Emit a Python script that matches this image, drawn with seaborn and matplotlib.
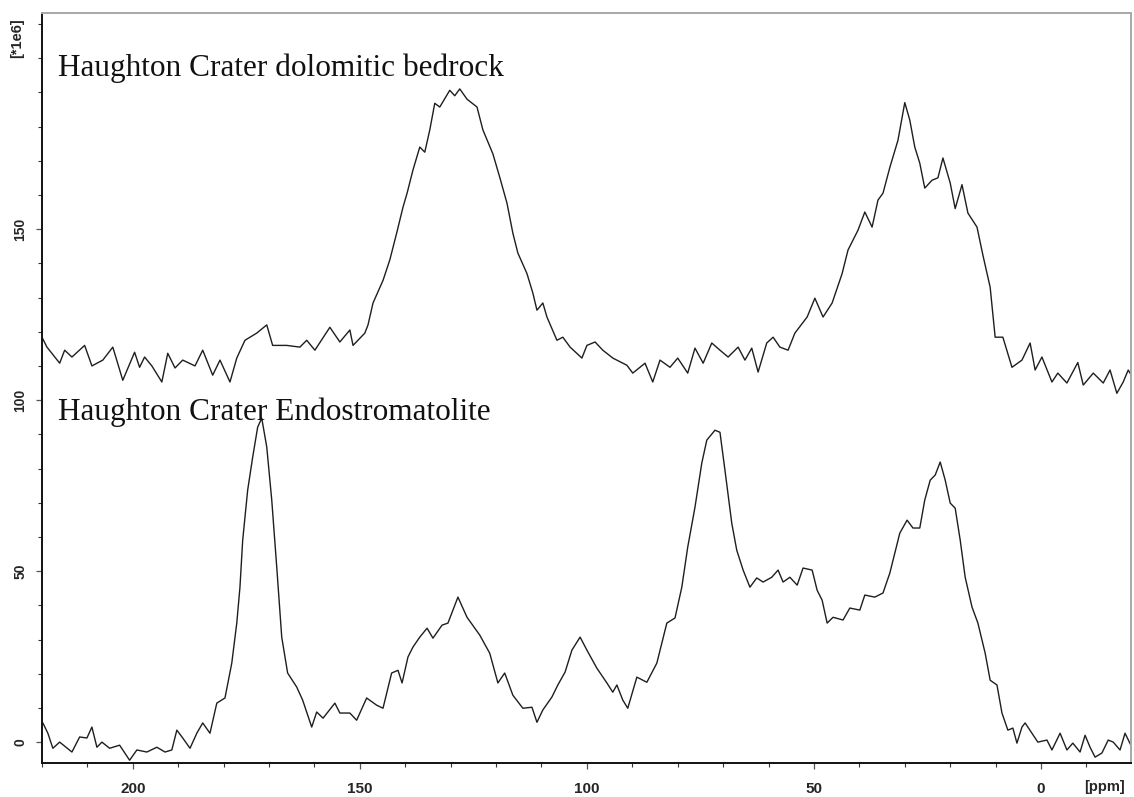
import matplotlib
matplotlib.use("Agg")
import matplotlib.pyplot as plt
import pandas as pd
import seaborn as sns
from matplotlib.ticker import FixedLocator, MultipleLocator

# 13C NMR spectra (intensity in units of 1e6), chemical shift in ppm
bedrock_ppm = [
    220.0, 218.9, 216.1, 215.0, 213.4, 210.6, 209.0, 206.6, 204.4, 202.2,
    199.6, 198.5, 197.4, 195.8, 193.6, 192.3, 190.7, 189.0, 186.3, 184.6,
    182.4, 180.8, 178.6, 177.1, 175.3, 172.7, 170.5, 169.2, 166.1, 163.2,
    161.7, 159.9, 156.6, 154.4, 152.2, 151.5, 148.9, 148.2, 147.1, 144.9,
    143.4, 141.9, 140.5, 139.6, 138.3, 136.8, 135.7, 134.6, 133.5, 132.4,
    130.2, 129.1, 128.0, 126.4, 124.2, 122.9, 120.7, 119.2, 117.6, 116.3,
    115.2, 113.2, 111.9, 111.0, 109.7, 108.8, 106.6, 105.3, 103.7, 101.1,
    100.0, 98.2, 96.5, 94.3, 91.2, 89.9, 87.2, 85.5, 83.9, 81.7,
    80.0, 77.8, 76.2, 74.4, 72.5, 70.7, 68.9, 66.7, 65.2, 63.7,
    62.3, 60.4, 59.0, 57.5, 55.7, 54.2, 51.5, 49.8, 48.0, 46.0,
    43.8, 42.5, 40.3, 38.8, 37.2, 35.9, 34.8, 33.3, 31.5, 30.0,
    28.9, 27.8, 26.7, 25.6, 24.0, 22.7, 21.6, 20.0, 18.9, 17.4,
    16.1, 14.1, 12.8, 11.2, 10.1, 8.4, 6.4, 4.2, 2.4, 1.3,
    -0.2, -2.4, -3.7, -5.7, -8.1, -9.3, -11.5, -13.7, -15.2, -16.7,
    -18.1, -19.2, -20.3,
]
bedrock_int = [
    118.4, 115.5, 110.8, 114.6, 112.6, 116.0, 110.0, 111.7, 115.5, 105.8,
    114.0, 109.6, 112.6, 110.0, 105.3, 113.7, 109.4, 111.7, 110.0, 114.6,
    107.3, 111.7, 105.3, 112.3, 117.5, 119.6, 122.0, 116.0, 116.0, 115.5,
    117.5, 114.6, 121.3, 117.0, 120.5, 116.0, 119.6, 122.0, 128.4, 135.0,
    141.0, 148.8, 156.4, 160.5, 167.3, 174.0, 172.5, 179.0, 186.8, 185.7,
    190.6, 189.0, 191.0, 188.0, 185.7, 179.0, 172.0, 165.2, 157.6, 148.8,
    143.0, 137.0, 131.3, 126.3, 128.4, 124.3, 117.5, 118.4, 115.5, 112.3,
    116.0, 117.0, 114.6, 112.3, 110.2, 107.9, 110.8, 105.3, 111.7, 109.6,
    112.3, 107.9, 115.2, 110.8, 116.7, 114.6, 112.6, 115.5, 111.7, 115.2,
    108.2, 116.7, 118.4, 115.5, 114.6, 119.6, 124.3, 129.8, 124.3, 128.4,
    137.0, 143.9, 149.7, 155.0, 150.6, 158.5, 160.5, 168.0, 176.0, 187.0,
    181.9, 174.0, 169.3, 162.0, 164.3, 165.0, 170.8, 163.5, 156.0, 163.0,
    154.7, 150.6, 142.4, 133.0, 118.4, 118.4, 109.6, 111.7, 116.7, 108.8,
    112.6, 105.3, 107.9, 105.0, 111.0, 104.4, 107.9, 105.0, 108.8, 102.0,
    105.3, 108.8, 106.4,
]

endo_ppm = [
    219.8, 218.7, 217.6, 216.1, 213.4, 211.7, 210.1, 209.0, 207.9, 206.8,
    205.1, 202.9, 200.7, 199.1, 196.9, 194.7, 192.9, 191.4, 190.3, 189.0,
    187.4, 185.9, 184.6, 183.0, 181.5, 179.7, 178.2, 177.1, 176.4, 175.8,
    174.7, 173.6, 172.5, 171.6, 170.5, 169.4, 168.3, 167.2, 165.9, 163.9,
    162.6, 160.6, 159.5, 158.1, 155.5, 154.4, 152.2, 150.7, 148.5, 146.3,
    144.9, 143.0, 141.6, 140.7, 139.4, 138.3, 136.8, 135.2, 133.9, 131.9,
    130.6, 128.4, 126.4, 123.6, 121.4, 119.6, 118.1, 116.3, 114.1, 112.1,
    111.0, 109.7, 107.7, 106.4, 104.8, 103.3, 101.5, 100.0, 97.8, 95.6,
    94.3, 93.4, 92.1, 91.0, 89.0, 86.8, 84.6, 82.4, 80.6, 79.1,
    77.8, 76.2, 74.7, 73.6, 71.8, 70.7, 69.6, 68.1, 67.0, 65.6,
    64.1, 62.6, 61.2, 59.3, 57.9, 56.8, 55.3, 53.7, 52.4, 50.4,
    49.3, 48.2, 47.1, 45.8, 43.6, 42.1, 39.9, 38.8, 36.6, 34.8,
    33.3, 32.2, 31.1, 29.5, 28.2, 26.7, 25.6, 24.4, 23.3, 22.2,
    21.1, 20.0, 18.9, 17.8, 16.7, 15.2, 13.9, 12.3, 11.2, 9.7,
    8.6, 7.3, 6.2, 5.3, 4.2, 3.5, 2.0, 0.7, -1.3, -2.4,
    -4.2, -5.7, -7.0, -8.6, -9.7, -10.8, -11.9, -13.4, -14.8, -15.9,
    -17.4, -18.5, -20.0,
]
endo_int = [
    5.6, 2.6, -1.8, 0.0, -2.9, 1.5, 1.2, 4.4, -1.5, 0.0,
    -1.8, -0.9, -5.3, -2.3, -2.9, -1.5, -2.9, -2.3, 3.5, 1.2,
    -1.8, 2.6, 5.6, 2.6, 11.4, 12.9, 23.1, 34.8, 45.3, 59.0,
    73.7, 83.3, 92.1, 94.7, 86.3, 70.8, 51.2, 30.7, 20.2, 16.1,
    12.3, 4.4, 8.8, 7.0, 11.4, 8.5, 8.5, 6.4, 12.9, 10.8,
    9.9, 20.2, 21.0, 17.3, 24.9, 27.8, 30.7, 33.3, 30.4, 34.2,
    34.8, 42.4, 36.5, 31.3, 26.0, 17.3, 20.2, 13.7, 9.9, 10.2,
    5.8, 9.4, 13.2, 16.7, 20.5, 26.9, 30.7, 26.9, 21.6, 17.3,
    14.6, 16.7, 12.3, 9.9, 19.0, 17.5, 23.1, 34.8, 36.3, 45.3,
    57.0, 68.7, 81.6, 88.3, 91.2, 90.6, 79.5, 64.0, 56.1, 50.3,
    45.3, 48.0, 46.8, 48.2, 50.3, 46.8, 48.2, 45.9, 50.9, 50.3,
    44.4, 41.5, 34.8, 36.5, 35.7, 39.2, 38.6, 43.0, 42.4, 43.6,
    49.4, 55.3, 61.1, 64.9, 62.6, 62.6, 70.8, 76.6, 78.1, 81.9,
    76.6, 69.9, 68.4, 59.1, 48.2, 39.5, 34.8, 26.0, 18.1, 16.7,
    8.5, 3.5, 4.1, -0.3, 4.4, 5.6, 2.6, 0.0, 0.6, -2.3,
    2.6, -2.3, -0.3, -2.9, 2.0, -1.5, -4.4, -3.2, 0.6, 0.0,
    -2.3, 2.6, -1.5,
]

sample_titles = ["Haughton Crater dolomitic bedrock", "Haughton Crater Endostromatolite"]
x_major_ticks = [200, 150, 100, 50, 0]
y_major_ticks = [0, 50, 100, 150]
x_unit_label = "[ppm]"
y_unit_label = "[*1e6]"

sns.set_style("ticks")
plt.rcParams["font.family"] = ["Liberation Sans", "DejaVu Sans"]

fig = plt.figure(figsize=(11.34, 7.97), dpi=100)
ax = fig.add_axes([0.0370, 0.0427, 0.9603, 0.9410])

bedrock = pd.DataFrame({"ppm": bedrock_ppm, "intensity": bedrock_int})
endo = pd.DataFrame({"ppm": endo_ppm, "intensity": endo_int})

line_kw = dict(color="#1e1e1e", linewidth=1.0, estimator=None, legend=False)
sns.lineplot(data=bedrock, x="ppm", y="intensity", ax=ax, **line_kw)
sns.lineplot(data=endo, x="ppm", y="intensity", ax=ax, **line_kw)

ax.set_xlim(220.0, -19.8)
ax.set_ylim(-6.1, 213.2)
ax.set_xlabel("")
ax.set_ylabel("")

ax.xaxis.set_major_locator(FixedLocator(x_major_ticks))
ax.xaxis.set_minor_locator(MultipleLocator(10))
ax.yaxis.set_major_locator(FixedLocator(y_major_ticks))
ax.yaxis.set_minor_locator(MultipleLocator(10))

ax.tick_params(axis="both", which="major", direction="out", length=4.5,
               width=0.9, color="#555555")
ax.tick_params(axis="both", which="minor", direction="out", length=3.2,
               width=0.8, color="#333333")
ax.tick_params(axis="x", which="major", pad=9, labelsize=11)
ax.tick_params(axis="y", which="major", pad=6, labelsize=10, labelrotation=90)
for lab in ax.get_xticklabels() + ax.get_yticklabels():
    lab.set_fontweight("bold")
for lab in ax.get_yticklabels():
    lab.set_verticalalignment("center")

for side in ("left", "bottom"):
    ax.spines[side].set_color("#111111")
    ax.spines[side].set_linewidth(1.4)
for side in ("top", "right"):
    ax.spines[side].set_visible(True)
    ax.spines[side].set_color("#a8a8a8")
    ax.spines[side].set_linewidth(1.4)
    ax.spines[side].set_linestyle((0, (1, 1)))

title_kw = dict(family=["Liberation Serif", "DejaVu Serif"], fontsize=22.5,
                color="#111111", ha="left", va="baseline")
ax.text(216.5, 194.7, sample_titles[0], **title_kw)
ax.text(216.5, 94.2, sample_titles[1], **title_kw)

fig.text(0.9744, 0.0125, x_unit_label, ha="center", va="center",
         fontsize=10.5, fontweight="bold")
fig.text(0.0150, 0.952, y_unit_label, ha="center", va="center",
         fontsize=10.5, fontweight="bold", rotation=90)

fig.savefig("out.png", dpi=100)
